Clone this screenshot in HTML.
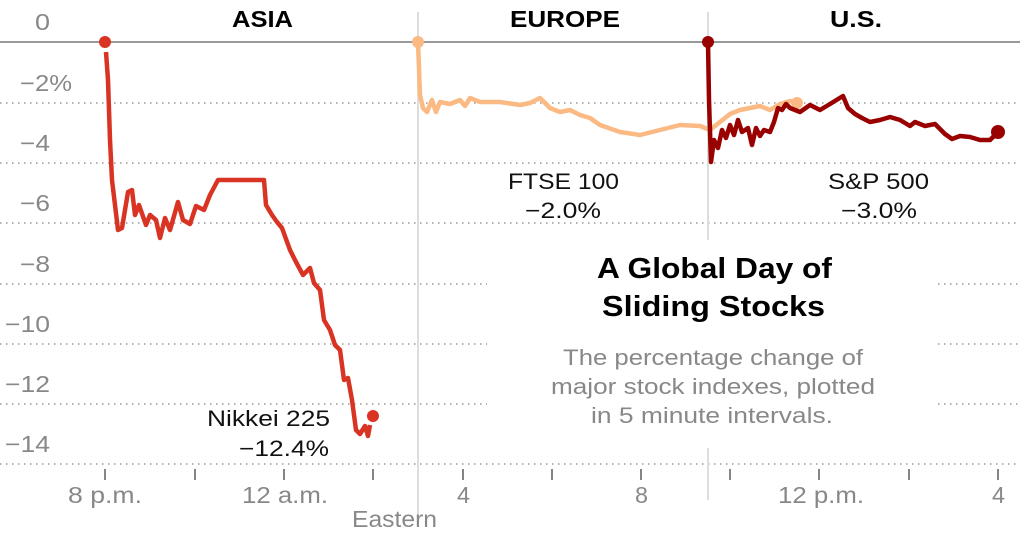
<!DOCTYPE html>
<html><head><meta charset="utf-8"><style>
html,body{margin:0;padding:0;background:#fff;}
svg{display:block;font-family:"Liberation Sans",Arial,sans-serif;}
</style></head><body>
<svg width="1024" height="535" viewBox="0 0 1024 535" xmlns="http://www.w3.org/2000/svg">
<g stroke="#999" stroke-width="1.6" stroke-dasharray="1.5 4.5">
<line x1="0" y1="103" x2="1020" y2="103"/>
<line x1="0" y1="163" x2="1020" y2="163"/>
<line x1="0" y1="223" x2="1020" y2="223"/>
<line x1="0" y1="284" x2="487" y2="284"/><line x1="938" y1="284" x2="1020" y2="284"/>
<line x1="0" y1="344" x2="487" y2="344"/><line x1="938" y1="344" x2="1020" y2="344"/>
<line x1="0" y1="404" x2="487" y2="404"/><line x1="938" y1="404" x2="1020" y2="404"/>
<line x1="0" y1="464" x2="1020" y2="464"/>
</g>
<line x1="0" y1="42" x2="1020" y2="42" stroke="#999" stroke-width="2"/>
<g stroke="#ddd" stroke-width="2">
<line x1="418" y1="12" x2="418" y2="520"/>
<line x1="708" y1="12" x2="708" y2="240"/>
<line x1="708" y1="448" x2="708" y2="500"/>
</g>
<g stroke="#333" stroke-width="1.2">
<line x1="105" y1="469" x2="105" y2="480"/><line x1="195" y1="469" x2="195" y2="480"/>
<line x1="284" y1="469" x2="284" y2="480"/><line x1="373" y1="469" x2="373" y2="480"/>
<line x1="463" y1="469" x2="463" y2="480"/><line x1="552" y1="469" x2="552" y2="480"/>
<line x1="641" y1="469" x2="641" y2="480"/><line x1="730" y1="469" x2="730" y2="480"/>
<line x1="819" y1="469" x2="819" y2="480"/><line x1="909" y1="469" x2="909" y2="480"/>
<line x1="998" y1="469" x2="998" y2="480"/>
</g>
<g fill="#888" font-size="23" lengthAdjust="spacingAndGlyphs">
<text x="35" y="30" textLength="15" lengthAdjust="spacingAndGlyphs">0</text>
<text x="20" y="91" textLength="52" lengthAdjust="spacingAndGlyphs">−2%</text>
<text x="20" y="151" textLength="30" lengthAdjust="spacingAndGlyphs">−4</text>
<text x="20" y="211" textLength="30" lengthAdjust="spacingAndGlyphs">−6</text>
<text x="20" y="272" textLength="30" lengthAdjust="spacingAndGlyphs">−8</text>
<text x="5" y="332" textLength="45" lengthAdjust="spacingAndGlyphs">−10</text>
<text x="5" y="392" textLength="45" lengthAdjust="spacingAndGlyphs">−12</text>
<text x="5" y="452" textLength="45" lengthAdjust="spacingAndGlyphs">−14</text>
<text x="68" y="503" textLength="74" lengthAdjust="spacingAndGlyphs">8 p.m.</text>
<text x="242" y="503" textLength="86" lengthAdjust="spacingAndGlyphs">12 a.m.</text>
<text x="457" y="503" textLength="13" lengthAdjust="spacingAndGlyphs">4</text>
<text x="635" y="503" textLength="13" lengthAdjust="spacingAndGlyphs">8</text>
<text x="778" y="503" textLength="86" lengthAdjust="spacingAndGlyphs">12 p.m.</text>
<text x="992" y="503" textLength="13" lengthAdjust="spacingAndGlyphs">4</text>
<text x="352" y="527" textLength="85" lengthAdjust="spacingAndGlyphs">Eastern</text>
</g>
<g font-weight="bold" font-size="23" fill="#000">
<text x="232" y="27" textLength="61" lengthAdjust="spacingAndGlyphs">ASIA</text>
<text x="510" y="27" textLength="110" lengthAdjust="spacingAndGlyphs">EUROPE</text>
<text x="830" y="27" textLength="52" lengthAdjust="spacingAndGlyphs">U.S.</text>
</g>
<polyline fill="none" stroke="#fbb983" stroke-width="4.5" stroke-linejoin="round" points="418,42 420,95 423,108 427,112 432,100 436,112 440,102 450,104 460,100 465,106 470,98 480,102 500,102 520,105 530,103 540,98 550,108 560,112 570,110 580,115 590,118 600,125 620,132 640,135 660,130 680,125 700,126 710,130 720,122 730,114 740,110 750,108 760,106 770,110 780,104 790,101 797,103"/>
<circle cx="418" cy="42" r="6" fill="#fbb983"/>
<circle cx="797" cy="103" r="6" fill="#fbb983"/>
<polyline fill="none" stroke="#990000" stroke-width="4.5" stroke-linejoin="round" points="708,42 709,100 711,162 714,140 718,148 722,130 726,138 730,125 734,135 738,120 742,132 748,128 752,145 756,128 760,136 764,130 770,132 774,122 778,108 782,110 786,104 790,108 800,112 810,105 820,110 830,104 843,96 848,108 855,114 862,118 870,122 880,120 890,117 900,120 910,126 915,122 925,126 935,124 945,134 952,139 960,136 970,137 980,140 990,140 998,132"/>
<circle cx="708" cy="42" r="6" fill="#990000"/>
<circle cx="998" cy="132" r="7" fill="#990000"/>
<polyline fill="none" stroke="#d93423" stroke-width="4.5" stroke-linejoin="round" points="106,52 108,80 110,140 112,180 118,230 122,228 128,192 132,190 135,215 139,205 146,225 150,215 156,220 160,238 165,218 170,230 178,202 183,220 190,224 196,206 204,210 210,195 218,180 222,180 264,180 266,205 272,215 277,222 282,228 290,250 296,262 303,275 310,268 314,283 320,290 324,320 330,330 335,345 340,350 344,380 348,378 352,400 356,430 360,434 365,426 368,436 370,425"/>
<circle cx="105" cy="42" r="6" fill="#d93423"/>
<circle cx="373" cy="416" r="6" fill="#d93423"/>
<g font-size="22" fill="#111">
<text x="508" y="189" textLength="111" lengthAdjust="spacingAndGlyphs">FTSE 100</text>
<text x="525" y="218" textLength="76" lengthAdjust="spacingAndGlyphs">−2.0%</text>
<text x="828" y="189" textLength="101" lengthAdjust="spacingAndGlyphs">S&amp;P 500</text>
<text x="841" y="218" textLength="76" lengthAdjust="spacingAndGlyphs">−3.0%</text>
<text x="207" y="426" textLength="123" lengthAdjust="spacingAndGlyphs">Nikkei 225</text>
<text x="239" y="456" textLength="90" lengthAdjust="spacingAndGlyphs">−12.4%</text>
</g>
<g font-size="29" font-weight="bold" fill="#000">
<text x="597" y="278" textLength="235" lengthAdjust="spacingAndGlyphs">A Global Day of</text>
<text x="602" y="316" textLength="223" lengthAdjust="spacingAndGlyphs">Sliding Stocks</text>
</g>
<g font-size="22" fill="#888">
<text x="563" y="365" textLength="300" lengthAdjust="spacingAndGlyphs">The percentage change of</text>
<text x="551" y="394" textLength="324" lengthAdjust="spacingAndGlyphs">major stock indexes, plotted</text>
<text x="591" y="423" textLength="242" lengthAdjust="spacingAndGlyphs">in 5 minute intervals.</text>
</g>
</svg>
</body></html>
